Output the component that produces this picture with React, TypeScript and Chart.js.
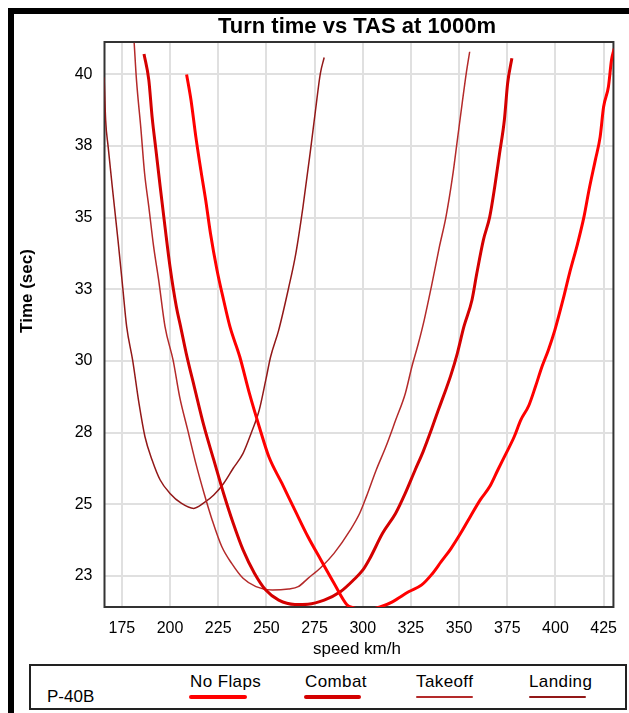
import React, { useEffect, useRef } from 'react';
import { Chart, registerables } from 'chart.js';

Chart.register(...registerables);

// ---------- data ----------
const chartTitle = 'Turn time vs TAS at 1000m';
const xAxisTitle = 'speed km/h';
const yAxisTitle = 'Time (sec)';
const aircraftName = 'P-40B';

const xTickValues = [175, 200, 225, 250, 275, 300, 325, 350, 375, 400, 425];
const xTickLabels = ['175', '200', '225', '250', '275', '300', '325', '350', '375', '400', '425'];
const yTickValues = [22.5, 25, 27.5, 30, 32.5, 35, 37.5, 40];
const yTickLabels = ['23', '25', '28', '30', '33', '35', '38', '40'];

const seriesNames = ['No Flaps', 'Combat', 'Takeoff', 'Landing'];

const noFlapsSpeed = [208.6, 210.9, 213.4, 216.0, 218.5, 221.0, 224.4, 227.8, 231.1, 236.2, 241.2, 246.3, 251.3, 258.1, 264.8, 271.6, 278.3, 285.1, 291.8, 295.0, 300.0, 305.0, 309.0, 315.4, 323.8, 330.6, 335.6, 340.7, 345.7, 350.8, 355.8, 360.9, 365.9, 370.1, 374.4, 378.6, 382.0, 386.2, 389.6, 393.0, 396.3, 399.7, 403.9, 407.3, 411.5, 414.8, 417.4, 420.7, 423.2, 425.0, 427.5, 429.1, 430.5];
const noFlapsTime = [40.0, 39.1, 37.82, 36.66, 35.62, 34.45, 33.17, 32.13, 31.2, 30.15, 28.87, 27.71, 26.66, 25.73, 24.8, 23.87, 23.06, 22.25, 21.5, 21.4, 21.33, 21.35, 21.42, 21.6, 21.95, 22.19, 22.54, 23.0, 23.45, 23.99, 24.57, 25.15, 25.62, 26.2, 26.78, 27.36, 27.94, 28.45, 29.1, 29.8, 30.38, 31.08, 32.13, 33.06, 34.1, 35.03, 35.96, 37.01, 37.82, 38.87, 39.57, 40.5, 40.9];

const combatSpeed = [186.5, 189.0, 190.7, 192.7, 194.9, 197.4, 200.0, 203.3, 205.5, 208.4, 212.6, 217.7, 222.7, 227.8, 232.8, 237.9, 243.8, 249.7, 256.4, 264.8, 271.6, 280.0, 288.4, 295.2, 300.2, 303.6, 310.3, 317.1, 322.1, 327.2, 331.4, 335.6, 339.0, 342.3, 345.7, 349.1, 352.5, 356.7, 359.2, 362.6, 365.9, 368.5, 371.0, 373.5, 375.2, 377.4];
const combatTime = [40.71, 39.8, 38.52, 37.36, 36.08, 34.68, 33.29, 31.89, 31.2, 30.27, 29.1, 27.71, 26.55, 25.38, 24.34, 23.41, 22.6, 22.01, 21.66, 21.51, 21.52, 21.66, 21.95, 22.36, 22.72, 23.1, 23.99, 24.69, 25.39, 26.2, 26.85, 27.6, 28.25, 28.85, 29.5, 30.27, 31.2, 32.13, 33.06, 34.22, 35.03, 36.08, 37.24, 38.41, 39.69, 40.56];

const takeoffSpeed = [181.4, 182.6, 184.8, 186.8, 189.0, 191.5, 194.1, 197.4, 201.6, 205.0, 209.2, 213.4, 217.7, 221.9, 226.9, 232.0, 237.9, 244.6, 253.1, 261.5, 266.5, 271.6, 278.3, 285.1, 293.5, 298.5, 301.9, 307.0, 312.0, 317.1, 322.1, 325.5, 328.9, 331.9, 335.6, 339.8, 343.2, 346.6, 349.1, 351.6, 353.7, 355.5];
const takeoffTime = [41.1, 39.8, 38.17, 36.55, 35.38, 33.99, 32.83, 31.2, 30.03, 28.75, 27.59, 26.43, 25.38, 24.45, 23.52, 22.94, 22.42, 22.13, 22.01, 22.05, 22.13, 22.42, 22.8, 23.29, 24.1, 24.7, 25.27, 26.2, 27.01, 27.94, 28.87, 29.8, 30.62, 31.43, 32.59, 33.99, 35.03, 36.43, 37.71, 38.99, 40.03, 40.79];

const landingSpeed = [165.8, 166.6, 167.9, 170.4, 173.0, 175.5, 177.5, 180.6, 183.9, 187.0, 190.7, 194.9, 200.0, 205.8, 212.3, 217.7, 222.7, 227.8, 232.8, 237.9, 242.1, 246.3, 249.7, 252.2, 256.4, 261.5, 265.3, 269.0, 272.9, 275.5, 278.0, 280.0];
const landingTime = [39.9, 38.4, 37.47, 35.85, 34.22, 32.54, 31.2, 30.03, 28.52, 27.36, 26.55, 25.85, 25.38, 25.04, 24.86, 25.06, 25.33, 25.73, 26.26, 26.78, 27.48, 28.29, 29.34, 30.15, 31.08, 32.54, 33.76, 35.38, 37.36, 38.75, 40.03, 40.59];

// ---------- styles ----------
const FONT = '"Liberation Sans", Arial, Helvetica, sans-serif';
const seriesColors = ['#FF0000', '#D40000', '#B42A2A', '#921818'];
const seriesWidths = [3, 3, 1.5, 1.5];
const legendLineWidths = [4, 4, 2, 2];
const legendTextLeft = [190, 305, 416, 529];
const legendLineLeft = [189, 304, 416, 529];
const legendLineLen = [58, 57, 57, 57];

const toPoints = (xs: number[], ys: number[]) => xs.map((x, i) => ({ x, y: ys[i] }));

const decorPlugin = {
  id: 'decor',
  beforeDatasetsDraw(chart: any) {
    const { ctx, chartArea } = chart;
    const { left, top, right, bottom } = chartArea;
    ctx.save();
    ctx.strokeStyle = '#333333';
    ctx.lineWidth = 2;
    ctx.strokeRect(left, top, right - left, bottom - top);
    ctx.restore();
  },
  afterDraw(chart: any) {
    const { ctx, chartArea } = chart;
    const { left, right } = chartArea;
    ctx.save();
    ctx.fillStyle = '#000000';
    ctx.textAlign = 'center';
    ctx.textBaseline = 'alphabetic';
    ctx.font = 'bold 22px ' + FONT;
    ctx.fillText(chartTitle, (left + right) / 2 - 2, 25);
    ctx.font = '17px ' + FONT;
    ctx.fillText(xAxisTitle, (left + right) / 2 - 2, 646);
    ctx.translate(19, 283);
    ctx.rotate(-Math.PI / 2);
    ctx.textBaseline = 'middle';
    ctx.font = 'bold 17px ' + FONT;
    ctx.fillText(yAxisTitle, 0, 0);
    ctx.restore();
  },
};

export default function App() {
  const canvasRef = useRef<HTMLCanvasElement | null>(null);

  useEffect(() => {
    if (!canvasRef.current) return;
    const series = [
      toPoints(noFlapsSpeed, noFlapsTime),
      toPoints(combatSpeed, combatTime),
      toPoints(takeoffSpeed, takeoffTime),
      toPoints(landingSpeed, landingTime),
    ];
    const chart = new Chart(canvasRef.current, {
      type: 'line',
      data: {
        datasets: series.map((data, i) => ({
          label: seriesNames[i],
          data,
          borderColor: seriesColors[i],
          backgroundColor: seriesColors[i],
          borderWidth: seriesWidths[i],
          pointRadius: 0,
          cubicInterpolationMode: 'monotone',
          fill: false,
        })),
      },
      options: {
        responsive: false,
        animation: false,
        layout: { padding: { left: 0, top: 34, right: 2.3, bottom: 0 } },
        plugins: {
          legend: { display: false },
          title: { display: false },
          tooltip: { enabled: false },
        },
        scales: {
          x: {
            type: 'linear',
            min: 166.0,
            max: 430.1,
            afterBuildTicks: (s: any) => {
              s.ticks = xTickValues.map((v) => ({ value: v }));
            },
            afterFit: (s: any) => {
              s.height = 56;
            },
            grid: { color: '#E0E0E0', lineWidth: 2, drawTicks: false },
            border: { display: false },
            ticks: {
              autoSkip: false,
              maxRotation: 0,
              padding: 12,
              color: '#000000',
              font: { family: FONT, size: 16 },
              callback: (_v: any, i: number) => xTickLabels[i],
            },
          },
          y: {
            type: 'linear',
            min: 21.42,
            max: 41.13,
            afterBuildTicks: (s: any) => {
              s.ticks = yTickValues.map((v) => ({ value: v }));
            },
            afterFit: (s: any) => {
              s.width = 96.5;
            },
            grid: { color: '#E0E0E0', lineWidth: 2, drawTicks: false },
            border: { display: false },
            ticks: {
              autoSkip: false,
              padding: 12,
              color: '#000000',
              font: { family: FONT, size: 16 },
              callback: (_v: any, i: number) => yTickLabels[i],
            },
          },
        },
      },
      plugins: [decorPlugin],
    } as any);
    return () => chart.destroy();
  }, []);

  return (
    <div
      style={{
        position: 'fixed',
        left: 8,
        top: 8,
        width: 621,
        height: 705,
        background: '#ffffff',
        fontFamily: FONT,
      }}
    >
      <div style={{ position: 'absolute', left: 0, top: 0, width: 621, height: 6, background: '#000' }} />
      <div style={{ position: 'absolute', left: 0, top: 0, width: 6, height: 705, background: '#000' }} />
      <canvas
        ref={canvasRef}
        width={621}
        height={655}
        style={{ position: 'absolute', left: 0, top: 0, width: 621, height: 655 }}
      />
      <div
        style={{
          position: 'absolute',
          left: 21,
          top: 656,
          width: 598,
          height: 46,
          border: '2px solid #222',
          boxSizing: 'border-box',
        }}
      />
      <span
        style={{
          position: 'absolute',
          left: 39,
          top: 680,
          fontSize: 17,
          lineHeight: '17px',
          color: '#000',
          whiteSpace: 'nowrap',
        }}
      >
        {aircraftName}
      </span>
      {seriesNames.map((name, i) => (
        <React.Fragment key={name}>
          <span
            style={{
              position: 'absolute',
              left: legendTextLeft[i] - 8,
              top: 665,
              fontSize: 17,
              lineHeight: '17px',
              color: '#000',
              whiteSpace: 'nowrap',
              letterSpacing: '0.4px',
            }}
          >
            {name}
          </span>
          <div
            style={{
              position: 'absolute',
              left: legendLineLeft[i] - 8,
              top: 688.5 - legendLineWidths[i] / 2,
              width: legendLineLen[i],
              height: legendLineWidths[i],
              background: seriesColors[i],
              borderRadius: legendLineWidths[i] / 2,
            }}
          />
        </React.Fragment>
      ))}
    </div>
  );
}
